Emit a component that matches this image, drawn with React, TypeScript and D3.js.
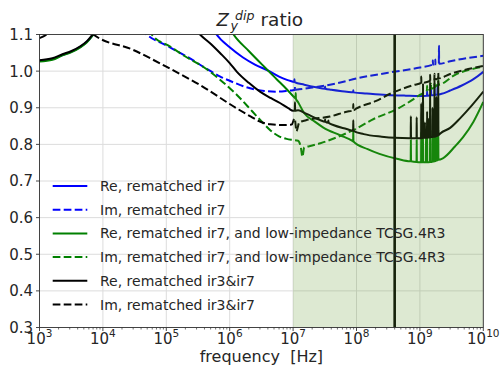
import React from "react";
import * as d3 from "d3";

type Pt = [number, number];
// [frequency Hz, foot value, tip value]
type Spike = [number, number, number];

const WIDTH = 503;
const HEIGHT = 367;

const xTickExponents = [3, 4, 5, 6, 7, 8, 9, 10];
const yTickValues = [0.3, 0.4, 0.5, 0.6, 0.7, 0.8, 0.9, 1.0, 1.1];

const shadedBand: [number, number] = [1e7, 1e10];
const markerFrequency = 4e8;

const legendLabels = [
  "Re, rematched ir7",
  "Im, rematched ir7",
  "Re, rematched ir7, and low-impedance TCSG.4R3",
  "Im, rematched ir7, and low-impedance TCSG.4R3",
  "Re, rematched ir3&ir7",
  "Im, rematched ir3&ir7",
];

// Re, rematched ir7
const reIr7: Pt[] = [
  [1e3, 1.028], [1.6e3, 1.033], [2.3e3, 1.044], [3.2e3, 1.053], [4.4e3, 1.066],
  [5.6e3, 1.08], [6.8e3, 1.097], [8.9e3, 1.13], [1.6e4, 1.25], [1e5, 1.35],
  [4e5, 1.16], [6.2e5, 1.1], [1e6, 1.065], [1.6e6, 1.038], [2.5e6, 1.018],
  [4.2e6, 1.0], [6e6, 0.985], [8e6, 0.976], [1e7, 0.971], [1.5e7, 0.963],
  [2.3e7, 0.956], [4e7, 0.949], [7e7, 0.944], [1.45e8, 0.939], [3e8, 0.935],
  [6e8, 0.933], [1e9, 0.932], [1.5e9, 0.934], [2.2e9, 0.938], [3e9, 0.947],
  [4.5e9, 0.96], [7e9, 0.978], [1e10, 0.998],
];
const reIr7Spikes: Spike[] = [
  [1.05e7, 0.97, 0.978], [3.2e7, 0.952, 0.958], [8.9e7, 0.942, 0.948],
  [1.3e9, 0.933, 0.945], [1.5e9, 0.934, 0.95], [1.7e9, 0.935, 0.955], [1.9e9, 0.936, 0.96],
];

// Im, rematched ir7
const imIr7: Pt[] = [
  [4e4, 1.115], [4.9e4, 1.1], [1e5, 1.07], [2.1e5, 1.04], [4e5, 1.01],
  [7.1e5, 0.985], [1.2e6, 0.968], [2.1e6, 0.953], [3.5e6, 0.946], [5.5e6, 0.944],
  [8e6, 0.946], [1e7, 0.948], [1.2e7, 0.95], [2e7, 0.955], [5e7, 0.967],
  [1e8, 0.98], [3e8, 0.995], [1e9, 1.01], [3e9, 1.027], [1e10, 1.042],
];
const imIr7Spikes: Spike[] = [
  [1.07e7, 0.949, 0.958], [1.6e9, 1.018, 1.03], [1.75e9, 1.019, 1.032], [2e9, 1.02, 1.069],
];

// Re, rematched ir7 with low-impedance TCSG.4R3
const reIr7Tcsg: Pt[] = [
  [1e3, 1.026], [1.6e3, 1.031], [2.3e3, 1.043], [3.2e3, 1.052], [4.4e3, 1.065],
  [5.6e3, 1.079], [6.8e3, 1.096], [8.9e3, 1.13], [1.6e4, 1.2], [1e5, 1.3],
  [7e5, 1.17], [1.15e6, 1.1], [2e6, 1.055], [3.5e6, 1.012], [5.5e6, 0.978],
  [8e6, 0.95], [1.05e7, 0.928], [1.2e7, 0.915], [1.5e7, 0.885], [2.2e7, 0.862],
  [3e7, 0.846], [5.5e7, 0.825], [8.5e7, 0.81], [1.5e8, 0.787], [2.3e8, 0.774],
  [4.5e8, 0.76], [7e8, 0.754], [1e9, 0.751], [1.5e9, 0.752], [2.3e9, 0.762],
  [3.6e9, 0.795], [4.8e9, 0.82], [7e9, 0.862], [1e10, 0.916],
];
const reIr7TcsgSpikes: Spike[] = [
  [1.1e7, 0.925, 0.94], [8.9e7, 0.808, 0.839],
  [7.2e8, 0.754, 0.812], [8.9e8, 0.752, 0.812], [1.05e9, 0.751, 0.834],
  [1.12e9, 0.751, 0.825], [1.25e9, 0.751, 0.83], [1.3e9, 0.751, 0.84],
  [1.45e9, 0.752, 0.853], [1.58e9, 0.753, 0.84], [1.7e9, 0.754, 0.864],
  [1.82e9, 0.756, 0.83], [1.95e9, 0.758, 0.84],
];

// Im, rematched ir7 with low-impedance TCSG.4R3
const imIr7Tcsg: Pt[] = [
  [5.3e4, 1.115], [5.9e4, 1.1], [1.15e5, 1.067], [2e5, 1.04], [3.8e5, 1.012],
  [7.1e5, 0.976], [1.3e6, 0.935], [2.3e6, 0.889], [3.5e6, 0.855], [4.4e6, 0.838],
  [6e6, 0.822], [7.9e6, 0.815], [1e7, 0.812], [1.2e7, 0.81], [1.33e7, 0.79],
  [1.4e7, 0.766], [1.5e7, 0.792], [1.8e7, 0.795], [2.7e7, 0.803], [5e7, 0.82],
  [8.9e7, 0.839], [1.9e8, 0.87], [4.3e8, 0.896], [1e9, 0.935], [1.9e9, 0.963],
  [3.6e9, 0.99], [1e10, 1.012],
];
const imIr7TcsgSpikes: Spike[] = [
  [1.3e9, 0.948, 0.96], [1.5e9, 0.952, 0.965], [1.7e9, 0.956, 0.97], [1.95e9, 0.963, 0.975],
];

// Re, rematched ir3&ir7
const reIr3Ir7: Pt[] = [
  [1e3, 1.03], [1.6e3, 1.035], [2.3e3, 1.046], [3.2e3, 1.055], [4.4e3, 1.068],
  [5.6e3, 1.082], [6.8e3, 1.099], [8.9e3, 1.13], [1.6e4, 1.2], [1e5, 1.25],
  [3.4e5, 1.1], [5e5, 1.075], [7.1e5, 1.049], [1e6, 1.022], [1.3e6, 0.998],
  [2e6, 0.968], [3e6, 0.944], [4.5e6, 0.926], [6.2e6, 0.913], [8.5e6, 0.898],
  [1e7, 0.892], [1.2e7, 0.893], [1.6e7, 0.884], [2.7e7, 0.866], [4.3e7, 0.853],
  [7e7, 0.842], [1.3e8, 0.828], [2.5e8, 0.821], [4e8, 0.818], [7e8, 0.817],
  [1e9, 0.817], [1.5e9, 0.82], [2.1e9, 0.83], [3e9, 0.845], [4.3e9, 0.871],
  [6.5e9, 0.905], [1e10, 0.944],
];
const reIr3Ir7Spikes: Spike[] = [
  [1.07e7, 0.892, 0.915], [3.2e7, 0.862, 0.868], [3.6e7, 0.859, 0.865], [8.9e7, 0.837, 0.866],
  [7.2e8, 0.817, 0.877], [8.9e8, 0.817, 0.874], [1.05e9, 0.817, 0.912],
  [1.12e9, 0.818, 0.967], [1.2e9, 0.818, 0.86], [1.3e9, 0.818, 0.89],
  [1.38e9, 0.819, 0.87], [1.45e9, 0.819, 0.971], [1.58e9, 0.82, 0.9],
  [1.7e9, 0.821, 0.976], [1.82e9, 0.823, 0.93], [1.95e9, 0.825, 0.976],
];

// Im, rematched ir3&ir7
const imIr3Ir7: Pt[] = [
  [1e3, 1.09], [1.3e3, 1.1], [2e3, 1.14], [5e3, 1.3], [7.1e3, 1.1],
  [3e4, 1.058], [1e5, 1.012], [3.4e5, 0.962], [1.3e6, 0.898], [2.2e6, 0.875],
  [3e6, 0.862], [4.4e6, 0.855], [7e6, 0.853], [9.5e6, 0.854], [1.06e7, 0.871],
  [1.13e7, 0.836], [1.25e7, 0.86], [1.6e7, 0.866], [3.8e7, 0.876], [7e7, 0.889],
  [1e8, 0.898], [2e8, 0.918], [3.8e8, 0.942], [8e8, 0.962], [1.5e9, 0.975],
  [3e9, 0.992], [1e10, 1.014],
];
const imIr3Ir7Spikes: Spike[] = [
  [8.9e7, 0.893, 0.91], [1.05e9, 0.968, 0.985], [1.45e9, 0.973, 0.99],
  [1.7e9, 0.977, 0.993], [1.95e9, 0.98, 0.995],
];

const BLUE = "#0000ff";
const GREEN = "#008000";
const BLACK = "#000000";
const DASH = "7.7,3.3";

const seriesList = [
  { label: legendLabels[0], base: reIr7, spikes: reIr7Spikes, color: BLUE, dashed: false },
  { label: legendLabels[1], base: imIr7, spikes: imIr7Spikes, color: BLUE, dashed: true },
  { label: legendLabels[2], base: reIr7Tcsg, spikes: reIr7TcsgSpikes, color: GREEN, dashed: false },
  { label: legendLabels[3], base: imIr7Tcsg, spikes: imIr7TcsgSpikes, color: GREEN, dashed: true },
  { label: legendLabels[4], base: reIr3Ir7, spikes: reIr3Ir7Spikes, color: BLACK, dashed: false },
  { label: legendLabels[5], base: imIr3Ir7, spikes: imIr3Ir7Spikes, color: BLACK, dashed: true },
];

// narrow resonances: foot, tip, foot
function withSpikes(base: Pt[], spikes: Spike[]): Pt[] {
  const pts: Pt[] = base.slice();
  spikes.forEach(([f, foot, tip]) => {
    pts.push([f / 1.006, foot], [f, tip], [f * 1.006, foot]);
  });
  return pts.sort((a, b) => a[0] - b[0]);
}

const PLOT = { left: 39.5, right: 483.3, top: 34.5, bottom: 327.5 };
const FONT = "'DejaVu Sans', sans-serif";

export default function App() {
  const x = d3.scaleLog().domain([1e3, 1e10]).range([PLOT.left, PLOT.right]);
  const y = d3.scaleLinear().domain([0.3, 1.1]).range([PLOT.bottom, PLOT.top]);
  const line = d3
    .line<Pt>()
    .x((d) => x(d[0]))
    .y((d) => y(d[1]))
    .curve(d3.curveMonotoneX);

  const minorTicks: number[] = [];
  for (let e = 3; e < 10; e++) {
    for (let m = 2; m <= 9; m++) minorTicks.push(m * 10 ** e);
  }

  const legendX0 = 52.7;
  const legendX1 = 87.3;
  const legendTextX = 100;
  const legendY0 = 186;
  const legendStep = 23.7;

  return (
    <svg
      width={WIDTH}
      height={HEIGHT}
      style={{ position: "absolute", left: 0, top: 0, background: "#fff" }}
      fontFamily={FONT}
    >
      <defs>
        <clipPath id="plot-area">
          <rect x={PLOT.left} y={PLOT.top} width={PLOT.right - PLOT.left} height={PLOT.bottom - PLOT.top} />
        </clipPath>
      </defs>
      <rect width={WIDTH} height={HEIGHT} fill="#fff" />

      {/* grid */}
      <g stroke="#dcdcdc" strokeWidth={1}>
        {xTickExponents.map((e) => (
          <line key={"gx" + e} x1={x(10 ** e)} x2={x(10 ** e)} y1={PLOT.top} y2={PLOT.bottom} />
        ))}
        {yTickValues.map((v) => (
          <line key={"gy" + v} x1={PLOT.left} x2={PLOT.right} y1={y(v)} y2={y(v)} />
        ))}
      </g>

      {/* curves */}
      <g clipPath="url(#plot-area)" fill="none" strokeWidth={2} strokeLinejoin="round">
        {seriesList.map((s, i) => (
          <path
            key={i}
            d={line(withSpikes(s.base, s.spikes)) || ""}
            stroke={s.color}
            strokeDasharray={s.dashed ? DASH : undefined}
          />
        ))}
        <line
          x1={x(markerFrequency)}
          x2={x(markerFrequency)}
          y1={PLOT.top}
          y2={PLOT.bottom}
          stroke={BLACK}
          strokeWidth={2.6}
        />
        <rect
          x={x(shadedBand[0])}
          y={PLOT.top}
          width={x(shadedBand[1]) - x(shadedBand[0])}
          height={PLOT.bottom - PLOT.top}
          fill="#649b33"
          fillOpacity={0.22}
        />
      </g>

      {/* frame */}
      <rect
        x={PLOT.left}
        y={PLOT.top}
        width={PLOT.right - PLOT.left}
        height={PLOT.bottom - PLOT.top}
        fill="none"
        stroke="#333"
        strokeWidth={0.9}
      />

      {/* ticks */}
      <g stroke="#333" strokeWidth={0.9}>
        {xTickExponents.map((e) => (
          <line key={"tx" + e} x1={x(10 ** e)} x2={x(10 ** e)} y1={PLOT.bottom} y2={PLOT.bottom + 3.5} />
        ))}
        {minorTicks.map((f) => (
          <line key={"mx" + f} x1={x(f)} x2={x(f)} y1={PLOT.bottom} y2={PLOT.bottom + 2} strokeWidth={0.7} />
        ))}
        {yTickValues.map((v) => (
          <line key={"ty" + v} x1={PLOT.left - 3.5} x2={PLOT.left} y1={y(v)} y2={y(v)} />
        ))}
      </g>
      <g fontSize={15} fill="#262626">
        {xTickExponents.map((e) => (
          <text key={"lx" + e} x={x(10 ** e)} y={344} textAnchor="middle">
            10
            <tspan fontSize={10.5} dy={-7}>
              {e}
            </tspan>
          </text>
        ))}
        {yTickValues.map((v) => (
          <text key={"ly" + v} x={PLOT.left - 6.5} y={y(v) + 5.4} textAnchor="end">
            {v.toFixed(1)}
          </text>
        ))}
      </g>

      {/* axis label */}
      <text x={(PLOT.left + PLOT.right) / 2} y={361.5} textAnchor="middle" fontSize={16} fill="#262626">
        {"frequency\u00a0\u00a0[Hz]"}
      </text>

      {/* title */}
      <g fill="#262626">
        <text x={216.5} y={26} fontSize={18} fontStyle="italic">
          Z
        </text>
        <text x={235} y={19.5} fontSize={12.6} fontStyle="italic">
          dip
        </text>
        <text x={230.5} y={29.5} fontSize={12.6} fontStyle="italic">
          y
        </text>
        <text x={260.5} y={26} fontSize={18.5}>
          ratio
        </text>
      </g>

      {/* legend */}
      <g>
        {seriesList.map((s, i) => {
          const cy = legendY0 + i * legendStep;
          return (
            <g key={"lg" + i}>
              <line
                x1={legendX0}
                x2={legendX1}
                y1={cy}
                y2={cy}
                stroke={s.color}
                strokeWidth={2}
                strokeDasharray={s.dashed ? DASH : undefined}
              />
              <text x={legendTextX} y={cy + 5} fontSize={14} fill="#262626">
                {s.label}
              </text>
            </g>
          );
        })}
      </g>
    </svg>
  );
}
